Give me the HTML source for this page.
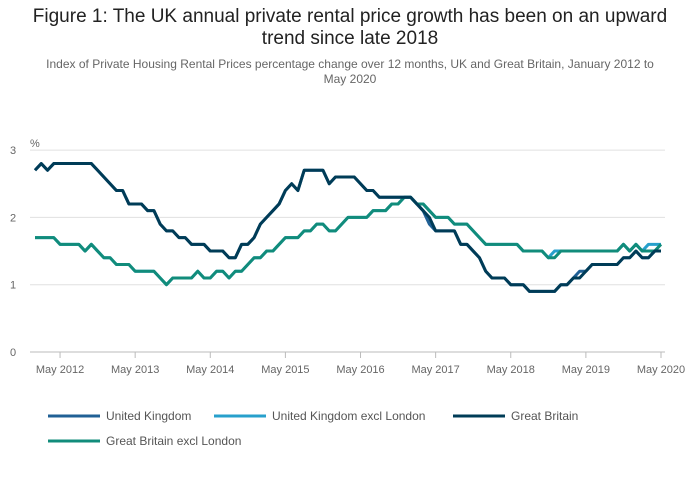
<!DOCTYPE html>
<html><head><meta charset="utf-8"><style>
body{margin:0;background:#fff;font-family:"Liberation Sans",sans-serif;}
.t{position:absolute;left:0;width:700px;text-align:center}
</style></head><body>
<div style="position:relative;width:700px;height:502px;overflow:hidden">
<div class="t" style="top:6px;font-size:19px;line-height:22px;color:#222">Figure 1: The UK annual private rental price growth has been on an upward<br>trend since late 2018</div>
<div class="t" style="top:57px;font-size:12px;line-height:15px;color:#666">Index of Private Housing Rental Prices percentage change over 12 months, UK and Great Britain, January 2012 to<br>May 2020</div>
<svg id="s" width="700" height="502" style="position:absolute;left:0;top:0"></svg>
</div>
<script>
const yTicks=[0,1,2,3];
const xTickLabels=["May 2012","May 2013","May 2014","May 2015","May 2016","May 2017","May 2018","May 2019","May 2020"];
const gb=[2.7,2.8,2.7,2.8,2.8,2.8,2.8,2.8,2.8,2.8,2.7,2.6,2.5,2.4,2.4,2.2,2.2,2.2,2.1,2.1,1.9,1.8,1.8,1.7,1.7,1.6,1.6,1.6,1.5,1.5,1.5,1.4,1.4,1.6,1.6,1.7,1.9,2.0,2.1,2.2,2.4,2.5,2.4,2.7,2.7,2.7,2.7,2.5,2.6,2.6,2.6,2.6,2.5,2.4,2.4,2.3,2.3,2.3,2.3,2.3,2.3,2.2,2.1,2.0,1.8,1.8,1.8,1.8,1.6,1.6,1.5,1.4,1.2,1.1,1.1,1.1,1.0,1.0,1.0,0.9,0.9,0.9,0.9,0.9,1.0,1.0,1.1,1.1,1.2,1.3,1.3,1.3,1.3,1.3,1.4,1.4,1.5,1.4,1.4,1.5,1.5];
const uk=[2.7,2.8,2.7,2.8,2.8,2.8,2.8,2.8,2.8,2.8,2.7,2.6,2.5,2.4,2.4,2.2,2.2,2.2,2.1,2.1,1.9,1.8,1.8,1.7,1.7,1.6,1.6,1.6,1.5,1.5,1.5,1.4,1.4,1.6,1.6,1.7,1.9,2.0,2.1,2.2,2.4,2.5,2.4,2.7,2.7,2.7,2.7,2.5,2.6,2.6,2.6,2.6,2.5,2.4,2.4,2.3,2.3,2.3,2.3,2.3,2.3,2.2,2.1,1.9,1.8,1.8,1.8,1.8,1.6,1.6,1.5,1.4,1.2,1.1,1.1,1.1,1.0,1.0,1.0,0.9,0.9,0.9,0.9,0.9,1.0,1.0,1.1,1.2,1.2,1.3,1.3,1.3,1.3,1.3,1.4,1.4,1.5,1.4,1.4,1.5,1.5];
const gbx=[1.7,1.7,1.7,1.7,1.6,1.6,1.6,1.6,1.5,1.6,1.5,1.4,1.4,1.3,1.3,1.3,1.2,1.2,1.2,1.2,1.1,1.0,1.1,1.1,1.1,1.1,1.2,1.1,1.1,1.2,1.2,1.1,1.2,1.2,1.3,1.4,1.4,1.5,1.5,1.6,1.7,1.7,1.7,1.8,1.8,1.9,1.9,1.8,1.8,1.9,2.0,2.0,2.0,2.0,2.1,2.1,2.1,2.2,2.2,2.3,2.3,2.2,2.2,2.1,2.0,2.0,2.0,1.9,1.9,1.9,1.8,1.7,1.6,1.6,1.6,1.6,1.6,1.6,1.5,1.5,1.5,1.5,1.4,1.4,1.5,1.5,1.5,1.5,1.5,1.5,1.5,1.5,1.5,1.5,1.6,1.5,1.6,1.5,1.5,1.5,1.6];
const ukx=[1.7,1.7,1.7,1.7,1.6,1.6,1.6,1.6,1.5,1.6,1.5,1.4,1.4,1.3,1.3,1.3,1.2,1.2,1.2,1.2,1.1,1.0,1.1,1.1,1.1,1.1,1.2,1.1,1.1,1.2,1.2,1.1,1.2,1.2,1.3,1.4,1.4,1.5,1.5,1.6,1.7,1.7,1.7,1.8,1.8,1.9,1.9,1.8,1.8,1.9,2.0,2.0,2.0,2.0,2.1,2.1,2.1,2.2,2.2,2.3,2.3,2.2,2.2,2.1,2.0,2.0,2.0,1.9,1.9,1.9,1.8,1.7,1.6,1.6,1.6,1.6,1.6,1.6,1.5,1.5,1.5,1.5,1.4,1.5,1.5,1.5,1.5,1.5,1.5,1.5,1.5,1.5,1.5,1.5,1.6,1.5,1.6,1.5,1.6,1.6,1.6];
const seriesNames=["United Kingdom","United Kingdom excl London","Great Britain","Great Britain excl London"];
const colors=["#206095","#27a0cc","#003c57","#118c7b"];
const NS="http://www.w3.org/2000/svg";const s=document.getElementById('s');
const x=i=>35+i*6.26, y=v=>352-v*67.3;
function mk(t,a,p){const e=document.createElementNS(NS,t);for(const k in a)e.setAttribute(k,a[k]);(p||s).appendChild(e);return e;}
yTicks.forEach(v=>{
 const l=mk('line',{x1:30,x2:665,y1:y(v),y2:y(v),stroke:v==0?'#bbb':'#e0e0e0'});
 
 
 const t=mk('text',{x:10,y:y(v)+4,'font-size':11,fill:'#666'});t.textContent=v;
 
 
});
const pc=mk('text',{x:30,y:147,'font-size':11,fill:'#666'});pc.textContent='%';


xTickLabels.forEach((lab,k)=>{
 const i=4+12*k;
 const tk=mk('line',{x1:x(i),x2:x(i),y1:352,y2:358,stroke:'#bbb'});
 
 
 const t=mk('text',{x:x(i),y:373,'font-size':11,fill:'#666','text-anchor':'middle'});t.textContent=lab;
 
 
});
[ukx,uk,gbx,gb].forEach((d,k)=>{
 const idx=[1,0,3,2][k];
 const p=mk('polyline',{points:d.map((v,i)=>x(i)+','+y(v)).join(' '),fill:'none',stroke:colors[idx],'stroke-width':3,'stroke-linejoin':'round'});
 
 
});
const lp=[[48,416],[214,416],[453,416],[48,441]];
seriesNames.forEach((n,k)=>{
 const g=mk('g',{});
 
 
 mk('line',{x1:lp[k][0],x2:lp[k][0]+52,y1:lp[k][1],y2:lp[k][1],stroke:colors[k],'stroke-width':3},g);
 const t=mk('text',{x:lp[k][0]+58,y:lp[k][1]+4,'font-size':12,fill:'#555'},g);t.textContent=n;
});
</script></body></html>
